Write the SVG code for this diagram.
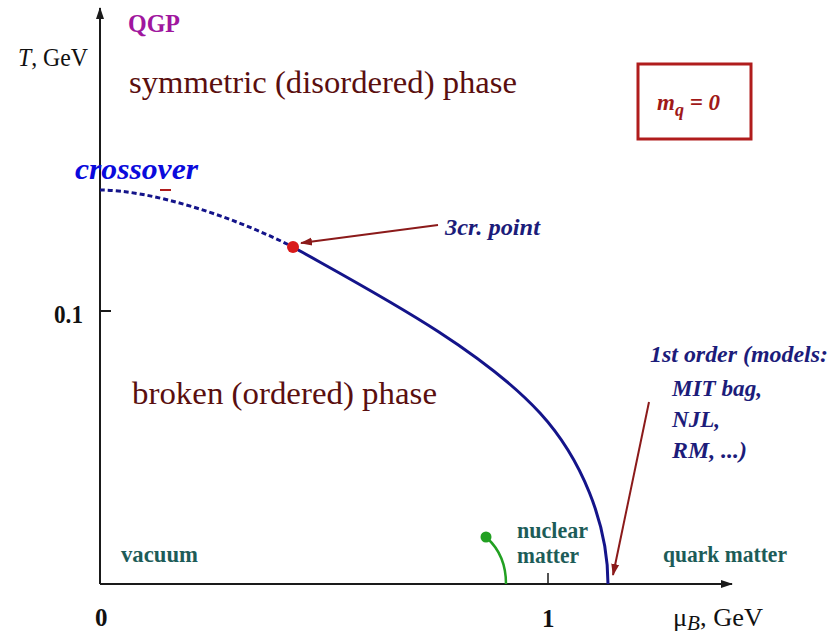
<svg xmlns="http://www.w3.org/2000/svg" width="838" height="637" viewBox="0 0 838 637">
<style>
  .axis { stroke: #1a1a1a; stroke-width: 2; fill: none; }
  .maroon { fill: #5a0f0f; font-size: 31px; }
  .teal { fill: #1d5c58; font-size: 24px; font-weight: bold; }
  .navy { fill: #1c1c7a; font-size: 24px; font-weight: bold; font-style: italic; }
  .lbl { fill: #111; font-size: 25px; }
  .curve { stroke: #14148a; stroke-width: 3; fill: none; }
  .arrow { stroke: #8b1a1a; stroke-width: 2; fill: none; }
</style>
<defs>
  <marker id="axhead" markerWidth="12" markerHeight="10" refX="11" refY="5" orient="auto" markerUnits="userSpaceOnUse">
    <path d="M0,1 L12,5 L0,9 Z" fill="#1a1a1a"/>
  </marker>
  <marker id="redhead" markerWidth="12" markerHeight="10" refX="11" refY="5" orient="auto" markerUnits="userSpaceOnUse">
    <path d="M0,1 L12,5 L0,9 Z" fill="#8b1a1a"/>
  </marker>
</defs>

<g id="diagram" font-family="'Times New Roman', 'Liberation Serif', 'DejaVu Serif', serif">
<g id="axes">
  <line class="axis" x1="100" y1="584" x2="100" y2="8" marker-end="url(#axhead)"/>
  <line class="axis" x1="100" y1="584" x2="732" y2="584" marker-end="url(#axhead)"/>
  <line class="axis" x1="100" y1="311" x2="111" y2="311"/>
  <line x1="548" y1="573" x2="548" y2="584" stroke="#1a1a1a" stroke-width="1.5"/>
  <text class="lbl" x="18" y="66" textLength="70" lengthAdjust="spacingAndGlyphs"><tspan font-style="italic">T</tspan>, GeV</text>
  <text class="lbl" x="54" y="323" font-weight="bold" font-size="24" textLength="29" lengthAdjust="spacingAndGlyphs">0.1</text>
  <text class="lbl" x="95" y="626" font-weight="bold">0</text>
  <text class="lbl" x="542" y="627" font-weight="bold">1</text>
  <text class="lbl" x="673" y="626" textLength="90" lengthAdjust="spacingAndGlyphs">μ<tspan font-style="italic" font-size="20" dy="4">B</tspan><tspan dy="-4">, GeV</tspan></text>
</g>

<g id="region-labels">
  <text x="128" y="32" font-size="26" font-weight="bold" fill="#a0169e" textLength="52" lengthAdjust="spacingAndGlyphs">QGP</text>
  <text class="maroon" x="129" y="93" textLength="388" lengthAdjust="spacingAndGlyphs">symmetric (disordered) phase</text>
  <text class="maroon" x="132" y="404" textLength="305" lengthAdjust="spacingAndGlyphs">broken (ordered) phase</text>
  <text class="teal" x="121" y="562" textLength="77" lengthAdjust="spacingAndGlyphs">vacuum</text>
  <text class="teal" x="517" y="538" textLength="71" lengthAdjust="spacingAndGlyphs">nuclear</text>
  <text class="teal" x="517" y="563" textLength="62" lengthAdjust="spacingAndGlyphs">matter</text>
  <text class="teal" x="663" y="562" textLength="124" lengthAdjust="spacingAndGlyphs">quark matter</text>
</g>

<g id="mq-box">
  <rect x="638" y="64" width="113" height="75" fill="none" stroke="#b01c1c" stroke-width="3"/>
  <text x="657" y="110" font-size="23" font-weight="bold" font-style="italic" fill="#a01818">m<tspan font-size="18" dy="6">q</tspan><tspan dy="-6"> = 0</tspan></text>
</g>

<g id="connectors">
  <path class="curve" stroke-dasharray="5,3" d="M100,190 C150,190 230,215 293,247"/>
  <path class="curve" d="M293,247 C371,291 479,347 540,413 C581,458 608,523 608,584"/>
  <path d="M487,538 C498,548 506,562 506,584" stroke="#22a022" stroke-width="2.5" fill="none"/>
  <line x1="160" y1="190" x2="171" y2="190" stroke="#b01c1c" stroke-width="2"/>
  <line class="arrow" x1="438" y1="225" x2="301" y2="243" marker-end="url(#redhead)"/>
  <line class="arrow" x1="649" y1="402" x2="613" y2="575" marker-end="url(#redhead)"/>
</g>

<g id="tricritical-point">
  <circle cx="293" cy="247" r="6" fill="#d91a1a"/>
  <text class="navy" x="445" y="235" textLength="95" lengthAdjust="spacingAndGlyphs">3cr. point</text>
</g>

<g id="crossover">
  <text x="75" y="179" font-size="29" font-weight="bold" font-style="italic" fill="#0a0adc" textLength="123" lengthAdjust="spacingAndGlyphs">crossover</text>
</g>

<g id="nuclear-point">
  <circle cx="486" cy="537" r="5.5" fill="#22a022"/>
</g>

<g id="first-order">
  <text class="navy" x="650" y="362" textLength="178" lengthAdjust="spacingAndGlyphs">1st order (models:</text>
  <text class="navy" x="672" y="396" textLength="90" lengthAdjust="spacingAndGlyphs">MIT bag,</text>
  <text class="navy" x="672" y="427" textLength="48" lengthAdjust="spacingAndGlyphs">NJL,</text>
  <text class="navy" x="672" y="458" textLength="75" lengthAdjust="spacingAndGlyphs">RM, ...)</text>
</g>
</g>
</svg>
